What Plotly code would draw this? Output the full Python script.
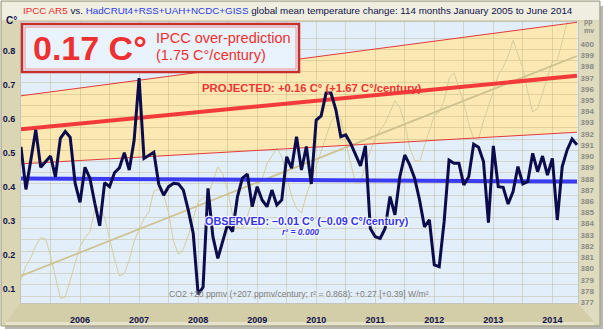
import plotly.graph_objects as go

# ---------------- data ----------------
month_index = list(range(114))  # Jan 2005 .. Jun 2014
temps = [
    0.518, 0.393, 0.479, 0.568, 0.458, 0.475, 0.491, 0.430, 0.543, 0.563, 0.546, 0.411,
    0.355, 0.458, 0.426, 0.352, 0.286, 0.413, 0.401, 0.442, 0.456, 0.501, 0.450, 0.538,
    0.720, 0.484, 0.494, 0.502, 0.408, 0.376, 0.401, 0.411, 0.409, 0.391, 0.332, 0.264,
    0.085, 0.105, 0.396, 0.254, 0.190, 0.239, 0.291, 0.269, 0.372, 0.426, 0.438, 0.342,
    0.401, 0.362, 0.342, 0.391, 0.347, 0.362, 0.489, 0.455, 0.548, 0.450, 0.519, 0.409,
    0.597, 0.609, 0.676, 0.676, 0.627, 0.548, 0.553, 0.528, 0.494, 0.462, 0.521, 0.278,
    0.254, 0.249, 0.278, 0.372, 0.318, 0.430, 0.494, 0.465, 0.426, 0.362, 0.283, 0.303,
    0.171, 0.166, 0.298, 0.479, 0.470, 0.470, 0.406, 0.430, 0.526, 0.517, 0.475, 0.295,
    0.521, 0.401, 0.399, 0.350, 0.386, 0.460, 0.409, 0.416, 0.499, 0.445, 0.491, 0.435,
    0.484, 0.303, 0.460, 0.509, 0.541, 0.524,
]
co2_ppmv = [
    378.4, 379.7, 380.4, 381.5, 382.2, 382.1, 380.6, 378.6, 376.8, 376.9, 378.3, 379.9,
    381.4, 382.2, 382.7, 384.7, 384.9, 384.0, 382.1, 380.3, 378.8, 379.0, 380.2, 381.9,
    382.9, 383.9, 384.5, 386.4, 386.5, 386.0, 384.4, 381.9, 380.7, 381.2, 382.4, 383.9,
    385.4, 385.7, 386.0, 387.2, 388.5, 387.9, 386.4, 384.2, 383.1, 383.0, 384.1, 385.5,
    386.9, 387.4, 388.8, 389.5, 390.2, 389.4, 387.7, 385.9, 384.8, 384.4, 386.0, 387.3,
    388.5, 389.8, 391.1, 392.5, 393.1, 392.8, 390.7, 388.7, 387.0, 387.1, 388.7, 389.9,
    391.1, 391.8, 392.4, 393.4, 394.4, 393.8, 392.4, 390.2, 389.1, 389.0, 390.3, 391.8,
    393.1, 393.4, 394.4, 396.4, 396.9, 395.6, 394.2, 392.4, 391.0, 391.0, 392.6, 393.9,
    395.4, 396.7, 397.4, 398.4, 399.8, 398.6, 397.3, 395.2, 393.4, 393.7, 395.1, 396.7,
    397.9, 398.0, 399.8, 401.4, 401.8, 401.3,
]
trend_x = [2005.0, 2014.417]
proj_center = [0.570, 0.727]
proj_upper = [0.668, 0.884]
proj_lower = [0.468, 0.561]
obs_trend = [0.425, 0.416]
co2_trend = [378.8, 398.4]

year_ticks = [2006, 2007, 2008, 2009, 2010, 2011, 2012, 2013, 2014]
temp_ticks = [0.1, 0.2, 0.3, 0.4, 0.5, 0.6, 0.7, 0.8]
ppm_ticks = list(range(377, 401))

# ---------------- layout geometry (pixels) ----------------
W, H = 604, 330
ML, MR, MT, MB = 21, 26, 22, 27
PW, PH = W - ML - MR, H - MT - MB

def px(x):
    return (x - ML) / PW

def py(y):
    return (H - MB - y) / PH

xs = [2005 + m / 12 for m in month_index]

FONT = "Liberation Sans, Arial, sans-serif"
NAVY = "#12124e"
PLOTBG = "#e2eef9"
GRID = "rgba(180,170,120,0.36)"

fig = go.Figure()

# CO2 (main y axis, right side, drawn underneath)
fig.add_trace(go.Scatter(x=xs, y=co2_ppmv, mode="lines", yaxis="y",
                         line=dict(color="#d6ce9e", width=1), hoverinfo="skip"))
fig.add_trace(go.Scatter(x=trend_x, y=co2_trend, mode="lines", yaxis="y",
                         line=dict(color="#cdc290", width=1.7), hoverinfo="skip"))

# temperature axis traces (overlay)
for arr in (proj_upper, proj_lower):
    fig.add_trace(go.Scatter(x=trend_x, y=arr, mode="lines", yaxis="y2",
                             line=dict(color="#e23a3a", width=1), hoverinfo="skip"))
fig.add_trace(go.Scatter(x=trend_x, y=proj_center, mode="lines", yaxis="y2",
                         line=dict(color="#f23a3a", width=4), hoverinfo="skip"))
fig.add_trace(go.Scatter(x=trend_x, y=obs_trend, mode="lines", yaxis="y2",
                         line=dict(color="#3b3bf2", width=4), hoverinfo="skip"))
fig.add_trace(go.Scatter(x=xs, y=temps, mode="lines", yaxis="y2",
                         line=dict(color="#0c0c4c", width=3), hoverinfo="skip"))
# trace activating the half-year vertical grid axis
fig.add_trace(go.Scatter(x=[2005.0], y=[390], xaxis="x2", yaxis="y", mode="markers",
                         marker=dict(size=0.1, color="rgba(0,0,0,0)"), hoverinfo="skip"))

shapes = []

def rect(x0, y0, x1, y1, fill, line=None, layer="below", lw=0):
    shapes.append(dict(type="rect", xref="paper", yref="paper",
                       x0=px(x0), x1=px(x1), y0=py(y1), y1=py(y0),
                       fillcolor=fill, layer=layer,
                       line=dict(width=lw, color=line or fill)))

def poly(points, fill, layer="below"):
    p = "M " + " L ".join("{},{}".format(px(a), py(b)) for a, b in points) + " Z"
    shapes.append(dict(type="path", xref="paper", yref="paper", path=p,
                       fillcolor=fill, line=dict(width=0), layer=layer))

# outer frame / bevels
rect(5, 6, 603, 329, "#b8b8b0")                      # drop shadow
rect(1, 1, 600, 326, "#d8d4b2", line="#9c9a88", lw=1)  # frame body
rect(2, 2, 599, 20, "#efeee1")                      # title strip
poly([(2, 20), (ML, MT), (ML, H - MB), (6, 322), (2, 325)], "#dad6b4")   # left bevel
poly([(ML, H - MB), (W - MR, H - MB), (594, 322), (6, 322)], "#d3cea7")  # bottom bevel
rect(6, 322, 594, 325, "#e6e3cc")
poly([(W - MR, MT), (599, 20), (599, 325), (594, 322), (W - MR, H - MB)], "#dedbbf")
rect(ML - 1, MT - 1, W - MR + 1, H - MB + 1, "#c4c4bc")   # plot border
rect(ML, MT, W - MR, H - MB, PLOTBG)                       # plot background

# projection band (drawn below grid)
band_path = "M {x0},{l0} L {x1},{l1} L {x1},{u1} L {x0},{u0} Z".format(
    x0=trend_x[0], x1=trend_x[1], l0=proj_lower[0], l1=proj_lower[1],
    u0=proj_upper[0], u1=proj_upper[1])
shapes.append(dict(type="path", path=band_path, xref="x", yref="y2",
                   fillcolor="#fce8b2", line=dict(width=0), layer="below"))

# big box
rect(22, 24, 299, 72, "#e9f3fd", line="#c83030", layer="above", lw=2.5)
shapes.append(dict(type="rect", xref="paper", yref="paper",
                   x0=px(25), x1=px(296), y0=py(69), y1=py(27),
                   fillcolor="rgba(0,0,0,0)", layer="above",
                   line=dict(width=1, color="#ea9090")))

annotations = []

def text(x, y, s, size, color, bold=False, italic=False, anchor="center",
         shadow=None):
    f = dict(family=FONT, size=size, color=color,
             weight="bold" if bold else "normal",
             style="italic" if italic else "normal")
    if shadow:
        f["shadow"] = shadow
    annotations.append(dict(x=px(x), y=py(y), xref="paper", yref="paper",
                            text=s, showarrow=False, xanchor=anchor,
                            yanchor="middle", font=f, borderpad=0))

title = ("<span style='color:#e82c2c'>IPCC AR5</span> vs. "
         "<span style='color:#2c3ce6'>HadCRUt4+RSS+UAH+NCDC+GISS</span> "
         "global mean temperature change: 114 months January 2005 to June 2014")
text(298, 10.5, title, 9.8, NAVY)
text(5, 20, "C°", 10, NAVY, bold=True, anchor="left")
text(583, 22, "pp", 7, "#8a8a82", bold=True, anchor="left")
text(583, 30, "mv", 7, "#8a8a82", bold=True, anchor="left")

text(90, 48, "0.17 C°", 34, "#ee3030", bold=True)
text(155, 37.5, "IPCC over-prediction", 14.5, "#ee3030", anchor="left")
text(155, 55, "(1.75 C°/century)", 14.5, "#ee3030", anchor="left")

halo = "1px 1px 1px #fff, -1px -1px 1px #fff, 1px -1px 1px #fff, -1px 1px 1px #fff"
text(201, 88, "PROJECTED: +0.16 C° (+1.67 C°/century)", 11.3, "#ee3434", bold=True,
     anchor="left")
text(204, 221, "OBSERVED: \u20130.01 C° (\u20130.09 C°/century)", 10.8, "#3434ee",
     bold=True, anchor="left", shadow=halo)
text(300, 232, "r² = 0.000", 8.5, "#3434ee", bold=True, italic=True, shadow=halo)
text(299, 293.5, "CO2 +20 ppmv (+207 ppmv/century; r² = 0.868): +0.27 [+0.39] W/m²",
     8.6, "#808080")

fig.update_layout(
    width=W, height=H,
    margin=dict(l=ML, r=MR, t=MT, b=MB, pad=0, autoexpand=False),
    paper_bgcolor="#ffffff",
    plot_bgcolor=PLOTBG,
    showlegend=False,
    shapes=shapes,
    annotations=annotations,
    xaxis=dict(range=[2005.0, 2014.434], tickvals=year_ticks,
               ticktext=[str(v) for v in year_ticks], automargin=False,
               tickfont=dict(family=FONT, size=9, color=NAVY, weight="bold"),
               ticks="outside", ticklen=8, tickcolor="rgba(0,0,0,0)",
               showgrid=False, zeroline=False, showline=False),
    xaxis2=dict(range=[2005.0, 2014.434], overlaying="x", dtick=0.5, tick0=2005,
                showticklabels=False, showgrid=True, automargin=False,
                gridcolor=GRID, gridwidth=1, zeroline=False),
    yaxis=dict(range=[376.38, 401.43], side="right", tickvals=ppm_ticks,
               tickfont=dict(family=FONT, size=8, color="#8a8a82", weight="bold"),
               ticklabelposition="outside bottom", automargin=False,
               ticks="outside", ticklen=4, tickcolor="rgba(0,0,0,0)",
               showgrid=True, gridcolor=GRID, gridwidth=1,
               zeroline=False, showline=False),
    yaxis2=dict(range=[0.059, 0.885], side="left", overlaying="y",
                tickvals=temp_ticks, ticktext=["%.1f" % v for v in temp_ticks],
                tickfont=dict(family=FONT, size=9, color=NAVY, weight="bold"),
                ticks="outside", ticklen=3, tickcolor="rgba(0,0,0,0)",
                automargin=False,
                showgrid=False, zeroline=False, showline=False),
)

fig.write_html("out.html")
